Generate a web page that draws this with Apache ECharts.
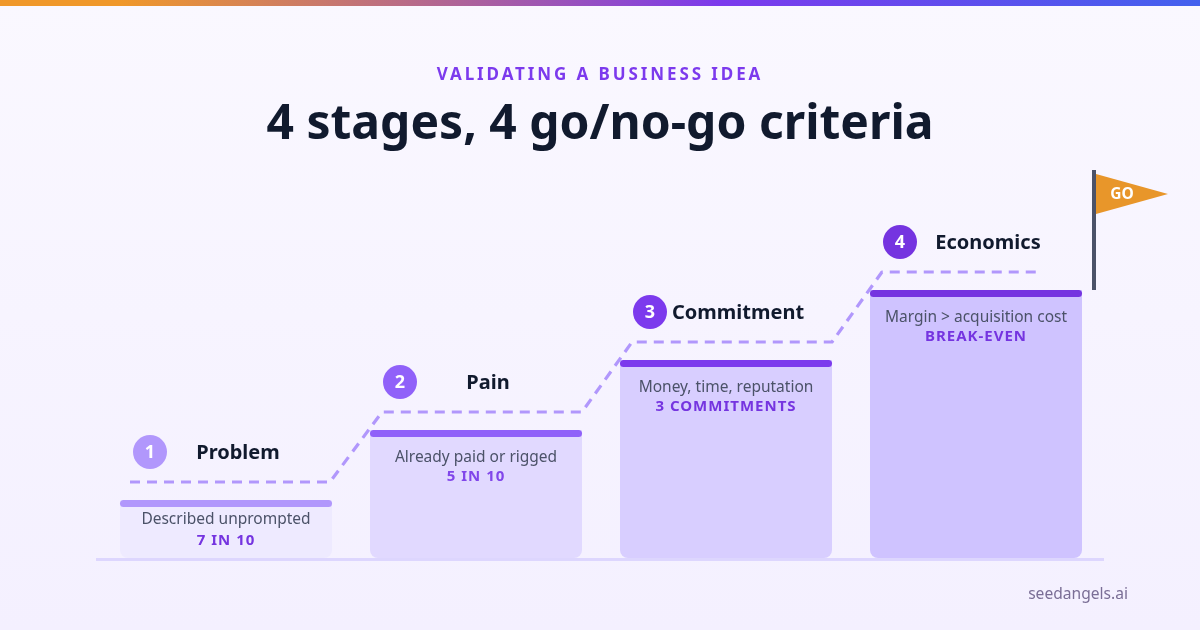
<!DOCTYPE html>
<html><head><meta charset="utf-8">
<style>html,body{margin:0;padding:0;background:#f7f4ff}#c{width:1200px;height:630px}</style>
<script src="https://cdn.jsdelivr.net/npm/echarts@6/dist/echarts.min.js"></script>
</head><body><div id="c"></div>
<script>
const stageNames = ['Problem', 'Pain', 'Commitment', 'Economics'];
const stageNumbers = ['1', '2', '3', '4'];
const criteria = ['Described unprompted', 'Already paid or rigged', 'Money, time, reputation', 'Margin > acquisition cost'];
const thresholds = ['7 IN 10', '5 IN 10', '3 COMMITMENTS', 'BREAK-EVEN'];
const stageHeights = [58, 128, 198, 268];
const accentColors = ['#B197FC', '#9061F9', '#7C3AED', '#7534E0'];
const bodyColors = ['#EEEAFF', '#E1D9FF', '#D8CEFF', '#CFC3FF'];
const thresholdColors = ['#7534E0', '#8146EA', '#7534E0', '#7534E0'];

const FONT = '"Noto Sans", sans-serif';
// Canvas tracking for the two letter-spaced styles (eyebrow and thresholds).
const tracking = [['bold 17px', '2.9px'], ['bold 15px', '1px']];
const nativeFill = CanvasRenderingContext2D.prototype.fillText;
CanvasRenderingContext2D.prototype.fillText = function (t, x, y, m) {
  const hit = tracking.find(r => this.font.indexOf(r[0]) >= 0);
  this.letterSpacing = hit ? hit[1] : '0px';
  return m === undefined ? nativeFill.call(this, t, x, y) : nativeFill.call(this, t, x, y, m);
};

const railSpans = [[-96, 104], [-94, 106], [-94, 106], [-94, 64]];
const chart = echarts.init(document.getElementById('c'), null, { renderer: 'canvas', width: 1200, height: 630 });

function renderStage(params, api) {
  const i = api.value(0), h = api.value(1);
  const top = api.coord([i, h]), cx = top[0], y = top[1];
  const w = api.size([1, 0])[0] * 0.848;
  const short = h < 100;
  const children = [
    { type: 'rect', shape: { x: cx - w / 2, y: y, width: w, height: 7, r: 3.5 }, style: { fill: accentColors[i] } },
    { type: 'circle', shape: { cx: cx - 76, cy: y - 48, r: 17 }, style: { fill: accentColors[i] } },
    { type: 'text', x: cx - 76, y: y - 47, style: { text: stageNumbers[i], fill: '#fff', font: 'bold 18px ' + FONT, align: 'center', verticalAlign: 'middle' } },
    { type: 'text', x: cx + 12, y: y - 47, style: { text: stageNames[i], fill: '#111A2E', font: 'bold 20px ' + FONT, align: 'center', verticalAlign: 'middle' } },
    { type: 'text', x: cx, y: y + (short ? 20 : 28), style: { text: criteria[i], fill: '#4B5268', font: '15.5px ' + FONT, align: 'center', verticalAlign: 'middle' } },
    { type: 'text', x: cx, y: y + (short ? 41 : 47), style: { text: thresholds[i], fill: thresholdColors[i], font: 'bold 15px ' + FONT, align: 'center', verticalAlign: 'middle' } }
  ];
  return { type: 'group', children };
}

function renderRail(params, api) {
  if (params.dataIndex !== 0) return null;
  const pts = [];
  stageHeights.forEach((h, i) => {
    const c = api.coord([i, h + 18]);
    pts.push([c[0] + railSpans[i][0], c[1]], [c[0] + railSpans[i][1], c[1]]);
  });
  return { type: 'polyline', shape: { points: pts }, style: { fill: null, stroke: '#B197FC', lineWidth: 3.2, lineDash: [10, 7], lineJoin: 'round' } };
}

chart.setOption({
  animation: false,
  backgroundColor: new echarts.graphic.LinearGradient(0, 0, 0, 1, [
    { offset: 0, color: '#FAF8FF' }, { offset: 1, color: '#F4F0FF' }
  ]),
  grid: { left: 101, width: 1000, top: 158, height: 400 },
  xAxis: { type: 'category', data: stageNames, show: false },
  yAxis: { type: 'value', min: 0, max: 400, show: false },
  series: [
    { type: 'bar', barWidth: 212, data: stageHeights.map((v, i) => ({ value: v, itemStyle: { color: bodyColors[i], borderRadius: [0, 0, 8, 8] } })), silent: true, z: 2 },
    { type: 'custom', renderItem: renderRail, data: stageHeights.map((v, i) => [i, v]), silent: true, z: 3 },
    { type: 'custom', renderItem: renderStage, data: stageHeights.map((v, i) => [i, v]), silent: true, z: 4 }
  ],
  graphic: [
    { type: 'rect', left: 0, top: 0, shape: { width: 1200, height: 6 }, style: { fill: new echarts.graphic.LinearGradient(0, 0, 1, 0, [
      { offset: 0.1, color: '#F0982A' }, { offset: 0.6, color: '#7C3AED' }, { offset: 1, color: '#4361EE' }
    ]) } },
    { type: 'rect', shape: { x: 96, y: 558, width: 1008, height: 3 }, style: { fill: '#DDD6FE' }, z: 1 },
    { type: 'rect', shape: { x: 1092, y: 170, width: 4, height: 120 }, style: { fill: '#4B5268' } },
    { type: 'polygon', shape: { points: [[1096, 174], [1168, 194], [1096, 214]] }, style: { fill: '#E8962A' } },
    { type: 'text', x: 1122, y: 195, style: { text: 'GO', fill: '#fff', font: 'bold 15.5px ' + FONT, align: 'center', verticalAlign: 'middle' } },
    { type: 'text', x: 600, y: 75, style: { text: 'VALIDATING A BUSINESS IDEA', fill: '#7C3AED', font: 'bold 17px ' + FONT, align: 'center', verticalAlign: 'middle' } },
    { type: 'text', x: 600, y: 125, style: { text: '4 stages, 4 go/no-go criteria', fill: '#111A2E', font: 'bold 48px ' + FONT, align: 'center', verticalAlign: 'middle' } },
    { type: 'text', x: 1128, y: 595, style: { text: 'seedangels.ai', fill: '#7A6E96', font: '15.6px ' + FONT, align: 'right', verticalAlign: 'middle' } }
  ]
});
</script></body></html>
